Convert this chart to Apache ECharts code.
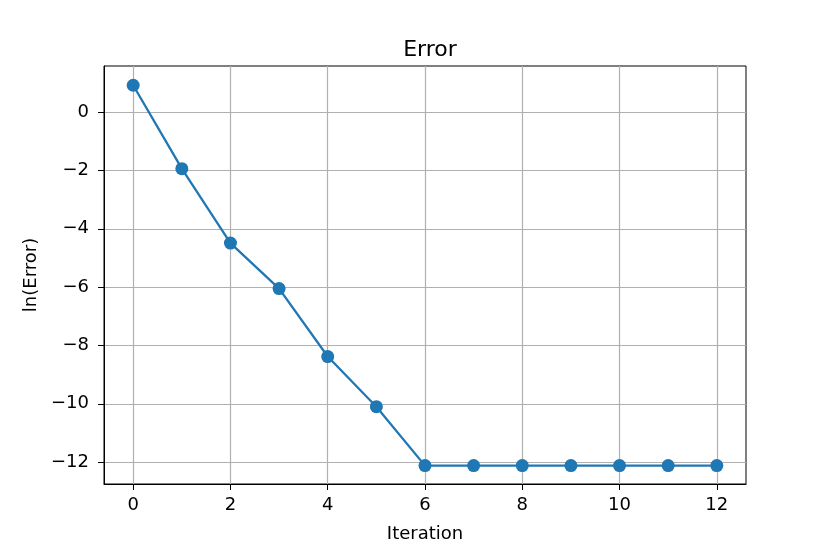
<!DOCTYPE html>
<html>
<head>
<meta charset="utf-8">
<script src="https://cdn.jsdelivr.net/npm/echarts@6/dist/echarts.min.js"></script>
<style>
  html, body { margin: 0; padding: 0; background: #fff; }
  #chart { width: 830px; height: 554px; }
</style>
</head>
<body>
<div id="chart"></div>
<script>
// values
const iterations = [0, 1, 2, 3, 4, 5, 6, 7, 8, 9, 10, 11, 12];
const lnError = [0.92, -1.94, -4.49, -6.05, -8.38, -10.1, -12.12, -12.12, -12.12, -12.12, -12.12, -12.12, -12.12];
const xTicks = [0, 2, 4, 6, 8, 10, 12];
const yTicks = [-12, -10, -8, -6, -4, -2, 0];

const chart = echarts.init(document.getElementById('chart'));

const font = 'DejaVu Sans';
const minus = v => String(v).replace('-', '\u2212');

const option = {
  backgroundColor: '#fff',
  animation: false,
  title: {
    text: 'Error',
    left: 425,
    top: 34,
    textAlign: 'center',
    textStyle: { fontFamily: font, fontSize: 22, fontWeight: 'normal', color: '#000' }
  },
  grid: {
    left: 104,
    right: 84,
    top: 66,
    bottom: 70,
    show: true,
    borderColor: '#000',
    borderWidth: 1
  },
  xAxis: {
    type: 'value',
    min: -0.6,
    max: 12.6,
    name: 'Iteration',
    nameLocation: 'middle',
    nameGap: 41,
    nameTextStyle: { fontFamily: font, fontSize: 18, color: '#000' },
    axisLine: { show: true, onZero: false, lineStyle: { color: '#000' } },
    axisTick: { show: true, inside: false, length: 6, customValues: xTicks, lineStyle: { color: '#000' } },
    axisLabel: { customValues: xTicks, margin: 12, fontFamily: font, fontSize: 18, color: '#000', formatter: minus },
    splitLine: { show: true, lineStyle: { color: '#b0b0b0', width: 1.2 } }
  },
  yAxis: {
    type: 'value',
    min: -12.75,
    max: 1.58,
    name: 'ln(Error)',
    nameLocation: 'middle',
    nameGap: 63,
    nameTextStyle: { fontFamily: font, fontSize: 18, color: '#000' },
    axisLine: { show: true, onZero: false, lineStyle: { color: '#000' } },
    axisTick: { show: true, inside: false, length: 6, customValues: yTicks, lineStyle: { color: '#000' } },
    axisLabel: { customValues: yTicks, margin: 15, fontFamily: font, fontSize: 18, color: '#000', formatter: minus },
    splitLine: { show: true, lineStyle: { color: '#b0b0b0', width: 1.2 } }
  },
  series: [
    {
      type: 'line',
      data: iterations.map((x, i) => [x, lnError[i]]),
      symbol: 'circle',
      symbolSize: 13,
      itemStyle: { color: '#1f77b4' },
      lineStyle: { color: '#1f77b4', width: 2.3 }
    }
  ]
};

chart.setOption(option);
</script>
</body>
</html>
